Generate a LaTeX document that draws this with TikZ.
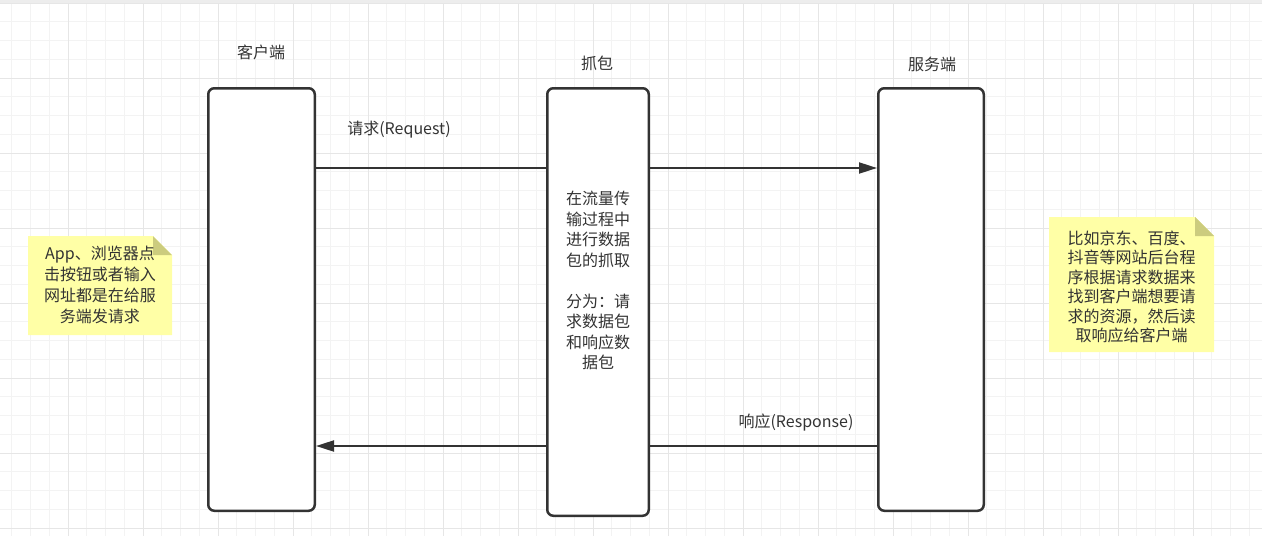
\documentclass[tikz,border=0pt]{standalone}
\usepackage{fontspec}
\setmainfont{Noto Sans CJK SC}
\usepackage{tikz}
\usetikzlibrary{positioning,arrows.meta,calc}
\definecolor{inkgray}{HTML}{333333}
\definecolor{gridlight}{HTML}{F3F3F3}
\definecolor{griddark}{HTML}{E6E6E6}
\definecolor{notefillc}{HTML}{FFFFA6}
\definecolor{notefoldc}{HTML}{CCCC7E}
\tikzset{
  lanebox/.style={draw=inkgray, line width=2.5pt, rounded corners=6pt, fill=white, inner sep=0pt},
  lanelabel/.style={font=\fontsize{16}{20}\selectfont, text=inkgray, inner sep=0pt},
  msgline/.style={draw=inkgray, line width=2pt},
  msgarrow/.style={msgline, -{Triangle[length=18pt, width=11pt]}},
  notetext/.style={font=\fontsize{16}{20}\selectfont, text=inkgray, align=center, inner sep=0pt},
  gridminor/.style={draw=gridlight, line width=1pt},
  gridmajor/.style={draw=griddark, line width=1pt},
}

\begin{document}
\begin{tikzpicture}[x=1pt, y=-1pt]
  \useasboundingbox (0,0) rectangle (1262,536);
  % background grid
  \foreach \i in {0,...,66} \draw[gridminor] ({11.75+18.75*\i},0) -- ({11.75+18.75*\i},536);
  \foreach \j in {0,...,28} \draw[gridminor] (0,{3+18.75*\j}) -- (1262,{3+18.75*\j});
  \foreach \i in {1,...,16} \draw[gridmajor] ({-7+75*\i},0) -- ({-7+75*\i},536);
  \foreach \j in {0,...,7} \draw[gridmajor] (0,{3+75*\j}) -- (1262,{3+75*\j});
  \fill[black!7] (0,0) rectangle (1262,3);

  % lanes
  \foreach \name/\x/\y/\w/\h in {
      client/261.5/299.5/106.5/422.5,
      sniffer/598/302/101.5/427.5,
      server/931/299.5/105.5/422.5} {
    \node[lanebox, minimum width=\w pt, minimum height=\h pt] (\name) at (\x,\y) {};
  }
  \node[lanelabel] (clientlabel) at (261,52) {客户端};
  \node[lanelabel] (snifferlabel) at (597,63) {抓包};
  \node[lanelabel] (serverlabel) at (932,64) {服务端};

  % messages
  \coordinate (reqrow) at (0,168);
  \coordinate (resrow) at (0,446);
  \draw[msgline] (client.east |- reqrow) -- (sniffer.west |- reqrow);
  \draw[msgarrow] (sniffer.east |- reqrow) -- (server.west |- reqrow);
  \draw[msgline] (server.west |- resrow) -- (sniffer.east |- resrow);
  \draw[msgarrow] (sniffer.west |- resrow) -- (client.east |- resrow);
  \node[lanelabel] (reqlabel) at (399,130) {请求(Request)};
  \node[lanelabel] (reslabel) at (796,423) {响应(Response)};

  \node[notetext, font=\fontsize{16}{20.5}\selectfont] (snifftext) at (598,280.5)
    {在流量传\\输过程中\\进行数据\\包的抓取\\[20.5pt]分为：请\\求数据包\\和响应数\\据包};

  % notes
  \fill[notefillc] (28,236) -- (153,236) -- (172,255) -- (172,335) -- (28,335) -- cycle;
  \fill[notefoldc] (153,236) -- (153,255) -- (172,255) -- cycle;
  \node[notetext, font=\fontsize{16}{21}\selectfont] (appnote) at (100,285)
    {App、浏览器点\\击按钮或者输入\\网址都是在给服\\务端发请求};

  \fill[notefillc] (1049,217) -- (1195,217) -- (1214,236) -- (1214,352) -- (1049,352) -- cycle;
  \fill[notefoldc] (1195,217) -- (1195,236) -- (1214,236) -- cycle;
  \node[notetext, font=\fontsize{16}{19.5}\selectfont] (sitenote) at (1131.5,287)
    {比如京东、百度、\\抖音等网站后台程\\序根据请求数据来\\找到客户端想要请\\求的资源，然后读\\取响应给客户端};
\end{tikzpicture}
\end{document}
